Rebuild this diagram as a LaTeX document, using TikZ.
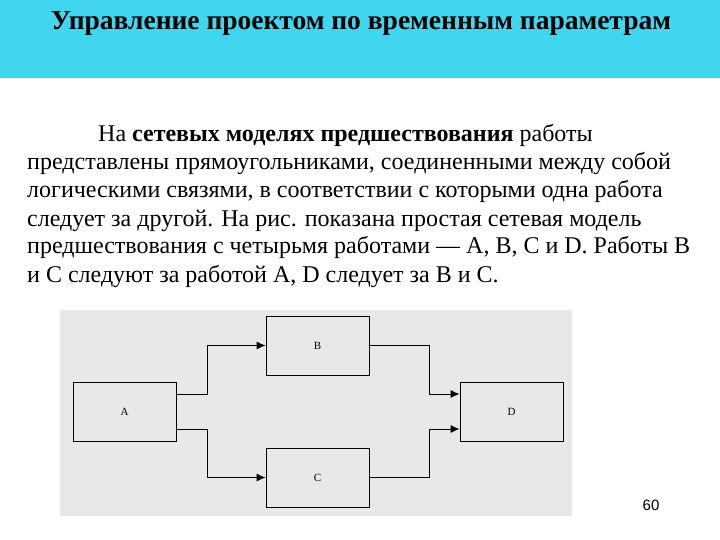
\documentclass[tikz,border=0pt]{standalone}
\usepackage{fontspec}
\setmainfont{Liberation Serif}
\newfontfamily\pagefont{Liberation Sans}
\usetikzlibrary{arrows.meta}
\definecolor{band}{RGB}{64,214,240}
\begin{document}
\begin{tikzpicture}[x=1pt,y=-1pt,
  box/.style={draw,line width=0.9pt,minimum width=103pt,minimum height=59pt,inner sep=0pt,font=\fontsize{11}{12}\selectfont},
  conn/.style={line width=0.9pt,-{Latex[length=9pt,width=8pt]}},
  txt/.style={anchor=base west,inner sep=0pt,font=\fontsize{24}{28}\selectfont}]
\useasboundingbox (0,0) rectangle (720,540);
\fill[white] (0,0) rectangle (720,540);
\fill[band] (0,0) rectangle (720,78);
\node[anchor=base,inner sep=0pt,font=\bfseries\fontsize{27.5}{30}\selectfont] (title) at (361,30) {Управление проектом по временным параметрам};
\node[txt] (l1) at (98,142) {На \textbf{сетевых моделях предшествования} работы};
\node[txt] (l2) at (27,170) {представлены прямоугольниками, соединенными между собой};
\node[txt] (l3) at (27,198) {логическими связями, в соответствии с которыми одна работа};
\node[txt] (l4) at (27,226) {следует за другой. На рис. показана простая сетевая модель};
\node[txt] (l5) at (27,254) {предшествования с четырьмя работами — A, B, C и D. Работы B};
\node[txt] (l6) at (27,282) {и C следуют за работой A, D следует за B и C.};
\fill[gray!18] (60,310) rectangle (572,516);
\node[box] (A) at (124.5,411.5) {A};
\node[box] (B) at (317.5,345.5) {B};
\node[box] (C) at (317.5,477.5) {C};
\node[box] (D) at (511.5,411.5) {D};
\draw[conn] (A.east |- 0,394) -| (207,345.5) -- (B.west);
\draw[conn] (A.east |- 0,429) -| (207,477.5) -- (C.west);
\draw[conn] (B.east) -| (429,394) -- (D.west |- 0,394);
\draw[conn] (C.east) -| (429,429) -- (D.west |- 0,429);
\node[font=\pagefont\fontsize{15}{17}\selectfont] (pg) at (651,505) {60};
\end{tikzpicture}
\end{document}
